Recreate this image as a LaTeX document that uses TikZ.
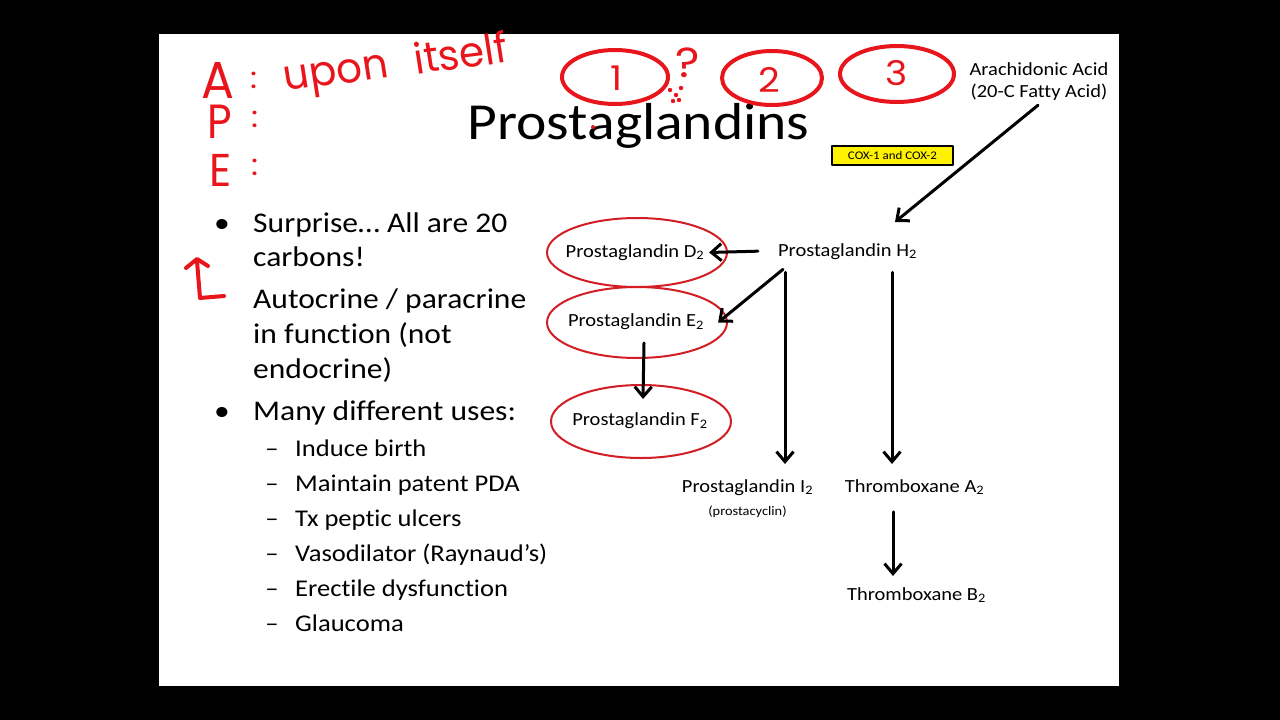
\documentclass[tikz,border=0pt]{standalone}
\usepackage{fontspec}
\setmainfont{Carlito}[Ligatures=NoCommon]
\newfontfamily\handfont{Poppins}
\usetikzlibrary{arrows.meta,shapes.geometric}

\definecolor{inkred}{RGB}{232,22,28}
\definecolor{ringred}{RGB}{210,30,36}

\begin{document}
\begin{tikzpicture}[
						x=1pt,
						y=-1pt,
						line cap=round,
						line join=round,
						every node/.style={xscale=1.107, inner sep=0pt},
						arr/.style={-{Straight Barb[length=10pt,width=17pt]}, line width=3pt},
						ring/.style={ellipse, draw=ringred, line width=2pt, minimum width=162.6pt},
						ink/.style={draw=inkred, line width=4pt},
						hand/.style={text=inkred, font=\handfont\fontsize{#1}{#1}\selectfont},
						pgtext/.style={font=\fontsize{18.5}{22}\selectfont},
						topitem/.style={anchor=base west, font=\fontsize{28.5}{35}\selectfont},
						subitem/.style={anchor=base west, font=\fontsize{24}{30}\selectfont}
						]
						
						\useasboundingbox (0,0) rectangle (1280,720);
						\fill[black] (0,0) rectangle (1280,720);
						\fill[white] (159,34) rectangle (1119,686);
						
						% Title
						\node[anchor=base, font=\fontsize{52}{60}\selectfont] (title) at (638.5,139) {Prostaglandins};
						
						% Left column
						\node[anchor=base, font=\fontsize{28.5}{35}\selectfont] (dot1) at (222,232.7) {•};
						\node[topitem] (surprise) at (253,232.7) {Surprise… All are 20};
						\node[topitem] (carbons) at (253,266.7) {carbons!};
						\node[topitem] (auto) at (253,308.3) {Autocrine / paracrine};
						\node[topitem] (func) at (253,343.3) {in function (not};
						\node[topitem] (endo) at (253,378.3) {endocrine)};
						\node[anchor=base, font=\fontsize{28.5}{35}\selectfont] (dot3) at (222,420) {•};
						\node[topitem] (uses) at (253,420) {Many different uses:};
						
						\foreach \t [count=\i] in {Induce birth, Maintain patent PDA, Tx peptic ulcers, Vasodilator (Raynaud’s), Erectile dysfunction, Glaucoma}{
							\node[anchor=base, font=\fontsize{24}{30}\selectfont] (dash\i) at (272,{421.7+35*\i}) {–};
							\node[subitem] (use\i) at (295,{421.7+35*\i}) {\t};
						}
						
						% Pathway
						\node[pgtext, anchor=north, align=center] (arach) at (1039,62) {Arachidonic Acid\\(20-C Fatty Acid)};
						\node[draw=black, fill=yellow, line width=2.2pt, minimum width=109.3pt, minimum height=19pt,
						font=\fontsize{11.7}{14}\selectfont] (cox) at (892.5,155.5) {COX-1 and COX-2};
						\node[pgtext, anchor=base] (pgh) at (847.5,256) {Prostaglandin H\textsubscript{2}};
						
						\node[ring, minimum height=69pt] (ringd) at (637,252.5) {};
						\node[ring, minimum height=71pt] (ringe) at (637,322.5) {};
						\node[ring, minimum height=73pt] (ringf) at (641,421.5) {};
						\node[pgtext] (pgd) at (635,252.5) {Prostaglandin D\textsubscript{2}};
						\node[pgtext] (pge) at (636,322) {Prostaglandin E\textsubscript{2}};
						\node[pgtext] (pgf) at (640,421) {Prostaglandin F\textsubscript{2}};
						
						\node[pgtext, anchor=base] (pgi) at (747.5,492) {Prostaglandin I\textsubscript{2}};
						\node[anchor=base, font=\fontsize{13}{15}\selectfont] (cyclin) at (747.5,515) {(prostacyclin)};
						\node[pgtext, anchor=base] (txa) at (914.5,492) {Thromboxane A\textsubscript{2}};
						\node[pgtext, anchor=base] (txb) at (916.5,600) {Thromboxane B\textsubscript{2}};
						
						\draw[arr] ([xshift=-1pt,yshift=-5pt]arach.south) -- ([xshift=47.5pt,yshift=34pt]pgh.base);
						\draw[arr] ([xshift=-20pt]pgh.west) -- ([xshift=-19pt]ringd.east);
						\draw[arr] ([xshift=5pt,yshift=-10pt]pgh.south west) -- ([xshift=-10pt]ringe.east);
						\draw[arr] ([xshift=7pt,yshift=16pt]ringe.south) -- ([xshift=2pt,yshift=-15pt]ringf.north);
						\draw[arr] ([xshift=-62.5pt,yshift=-13pt]pgh.south) -- ([xshift=37.5pt,yshift=15pt]pgi.north);
						\draw[arr] ([xshift=44.5pt,yshift=-13pt]pgh.south) -- ([xshift=-22.5pt,yshift=15pt]txa.north);
						\draw[arr] ([xshift=-21.5pt,yshift=-17pt]txa.south) -- ([xshift=-23.5pt,yshift=11pt]txb.north);
						
						% Red pen notes
						\node[hand=52, xscale=0.85] (penA) at (218,80) {A};
						\node[hand=30] (colA) at (254,80) {:};
						\node[hand=48, xscale=0.8] (penP) at (220,122) {P};
						\node[hand=30] (colP) at (255,119) {:};
						\node[hand=46, xscale=0.85] (penE) at (221,170) {E};
						\node[hand=30] (colE) at (255,167) {:};
						\node[hand=42, rotate=8, xscale=0.87] (itself) at (396,66) {upon\hspace{28pt}itself};
						
						\draw[ink] (615,77) ellipse [x radius=53, y radius=27];
						\draw[ink] (772,78) ellipse [x radius=50, y radius=27];
						\draw[ink] (897,74) ellipse [x radius=57, y radius=28];
						\node[hand=34] (one) at (617,78) {1};
						\node[hand=34] (two) at (769,80) {2};
						\node[hand=34] (three) at (897,73) {3};
						\node[hand=42] (query) at (688,63) {?};
						\foreach \p in {(670,90),(676,95),(681,88),(673,101),(679,100)}
							\fill[inkred] \p circle (2.2);
						\fill[inkred] (593,127) circle (2);
						
						\draw[ink] (186,268) -- (197,259) -- (208,266);
						\draw[ink] (197,261) -- (200,298) -- (224,296);
						
					\end{tikzpicture}
\end{document}
